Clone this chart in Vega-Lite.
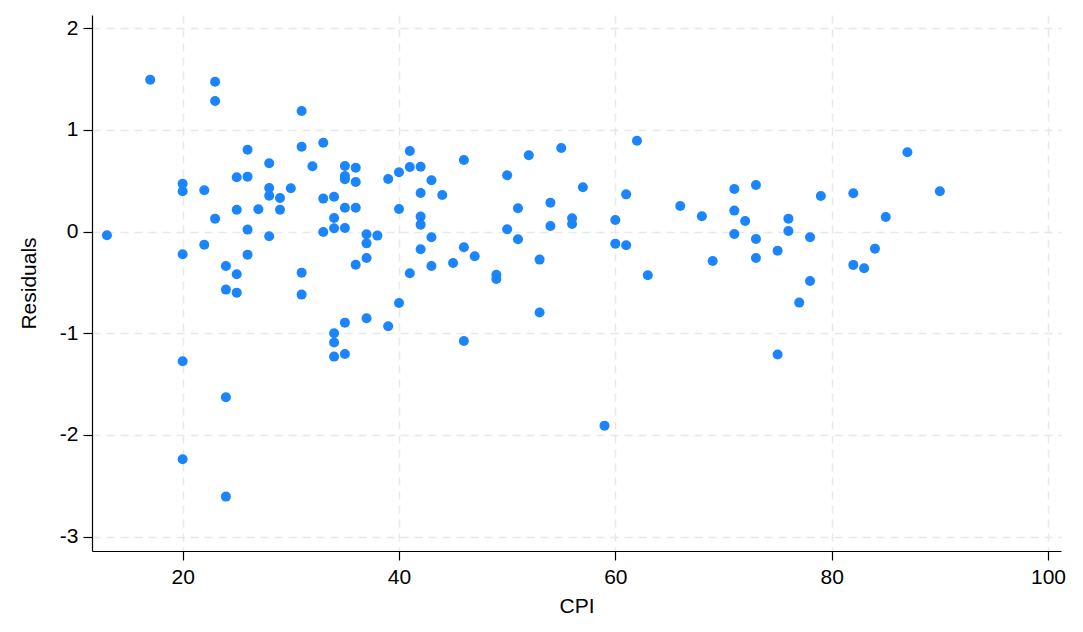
{
  "$schema": "https://vega.github.io/schema/vega-lite/v6.json",
  "width": 969,
  "height": 536,
  "autosize": {"type": "none"},
  "padding": {"left": 92, "top": 15, "right": 22, "bottom": 81},
  "background": "white",
  "config": {
    "view": {"stroke": null},
    "font": "Liberation Sans",
    "axis": {
      "domainColor": "#000000",
      "domainWidth": 1.2,
      "tickColor": "#000000",
      "tickWidth": 1.2,
      "tickSize": 9,
      "labelFont": "Liberation Sans",
      "titleFont": "Liberation Sans",
      "labelFontSize": 21,
      "titleFontSize": 21,
      "titleFontWeight": "normal",
      "labelColor": "#000000",
      "titleColor": "#000000",
      "grid": true,
      "gridColor": "#e8e8e8",
      "gridDash": [8, 6],
      "gridWidth": 1.5
    }
  },
  "data": {
    "values": [
      {"CPI": 13, "Residuals": -0.035},
      {"CPI": 17, "Residuals": 1.495},
      {"CPI": 20, "Residuals": 0.472},
      {"CPI": 20, "Residuals": 0.397},
      {"CPI": 20, "Residuals": -0.222},
      {"CPI": 20, "Residuals": -1.274},
      {"CPI": 20, "Residuals": -2.238},
      {"CPI": 22, "Residuals": 0.407},
      {"CPI": 22, "Residuals": -0.128},
      {"CPI": 23, "Residuals": 1.475},
      {"CPI": 23, "Residuals": 1.285},
      {"CPI": 23, "Residuals": 0.128},
      {"CPI": 24, "Residuals": -0.337},
      {"CPI": 24, "Residuals": -0.570},
      {"CPI": 24, "Residuals": -1.628},
      {"CPI": 24, "Residuals": -2.606},
      {"CPI": 25, "Residuals": 0.535},
      {"CPI": 25, "Residuals": 0.216},
      {"CPI": 25, "Residuals": -0.419},
      {"CPI": 25, "Residuals": -0.600},
      {"CPI": 26, "Residuals": 0.806},
      {"CPI": 26, "Residuals": 0.541},
      {"CPI": 26, "Residuals": 0.020},
      {"CPI": 26, "Residuals": -0.226},
      {"CPI": 27, "Residuals": 0.220},
      {"CPI": 28, "Residuals": 0.672},
      {"CPI": 28, "Residuals": 0.430},
      {"CPI": 28, "Residuals": 0.354},
      {"CPI": 28, "Residuals": -0.045},
      {"CPI": 29, "Residuals": 0.331},
      {"CPI": 29, "Residuals": 0.216},
      {"CPI": 30, "Residuals": 0.427},
      {"CPI": 31, "Residuals": 1.187},
      {"CPI": 31, "Residuals": 0.836},
      {"CPI": 31, "Residuals": -0.403},
      {"CPI": 31, "Residuals": -0.619},
      {"CPI": 32, "Residuals": 0.643},
      {"CPI": 33, "Residuals": 0.875},
      {"CPI": 33, "Residuals": 0.325},
      {"CPI": 33, "Residuals": -0.003},
      {"CPI": 34, "Residuals": 0.344},
      {"CPI": 34, "Residuals": 0.135},
      {"CPI": 34, "Residuals": 0.033},
      {"CPI": 34, "Residuals": -0.999},
      {"CPI": 34, "Residuals": -1.091},
      {"CPI": 34, "Residuals": -1.229},
      {"CPI": 35, "Residuals": 0.646},
      {"CPI": 35, "Residuals": 0.548},
      {"CPI": 35, "Residuals": 0.515},
      {"CPI": 35, "Residuals": 0.236},
      {"CPI": 35, "Residuals": 0.036},
      {"CPI": 35, "Residuals": -0.895},
      {"CPI": 35, "Residuals": -1.203},
      {"CPI": 36, "Residuals": 0.629},
      {"CPI": 36, "Residuals": 0.489},
      {"CPI": 36, "Residuals": 0.236},
      {"CPI": 36, "Residuals": -0.325},
      {"CPI": 37, "Residuals": -0.026},
      {"CPI": 37, "Residuals": -0.115},
      {"CPI": 37, "Residuals": -0.259},
      {"CPI": 37, "Residuals": -0.852},
      {"CPI": 38, "Residuals": -0.039},
      {"CPI": 39, "Residuals": 0.518},
      {"CPI": 39, "Residuals": -0.930},
      {"CPI": 40, "Residuals": 0.584},
      {"CPI": 40, "Residuals": 0.223},
      {"CPI": 40, "Residuals": -0.701},
      {"CPI": 41, "Residuals": 0.793},
      {"CPI": 41, "Residuals": 0.636},
      {"CPI": 41, "Residuals": -0.409},
      {"CPI": 42, "Residuals": 0.639},
      {"CPI": 42, "Residuals": 0.380},
      {"CPI": 42, "Residuals": 0.148},
      {"CPI": 42, "Residuals": 0.069},
      {"CPI": 42, "Residuals": -0.173},
      {"CPI": 43, "Residuals": 0.505},
      {"CPI": 43, "Residuals": -0.055},
      {"CPI": 43, "Residuals": -0.337},
      {"CPI": 44, "Residuals": 0.361},
      {"CPI": 45, "Residuals": -0.308},
      {"CPI": 46, "Residuals": 0.705},
      {"CPI": 46, "Residuals": -0.153},
      {"CPI": 46, "Residuals": -1.075},
      {"CPI": 47, "Residuals": -0.242},
      {"CPI": 49, "Residuals": -0.423},
      {"CPI": 49, "Residuals": -0.465},
      {"CPI": 50, "Residuals": 0.554},
      {"CPI": 50, "Residuals": 0.024},
      {"CPI": 51, "Residuals": 0.230},
      {"CPI": 51, "Residuals": -0.075},
      {"CPI": 52, "Residuals": 0.751},
      {"CPI": 53, "Residuals": -0.275},
      {"CPI": 53, "Residuals": -0.796},
      {"CPI": 54, "Residuals": 0.285},
      {"CPI": 54, "Residuals": 0.056},
      {"CPI": 55, "Residuals": 0.823},
      {"CPI": 56, "Residuals": 0.131},
      {"CPI": 56, "Residuals": 0.076},
      {"CPI": 57, "Residuals": 0.437},
      {"CPI": 59, "Residuals": -1.908},
      {"CPI": 60, "Residuals": 0.115},
      {"CPI": 60, "Residuals": -0.118},
      {"CPI": 61, "Residuals": 0.367},
      {"CPI": 61, "Residuals": -0.134},
      {"CPI": 62, "Residuals": 0.895},
      {"CPI": 63, "Residuals": -0.429},
      {"CPI": 66, "Residuals": 0.253},
      {"CPI": 68, "Residuals": 0.151},
      {"CPI": 69, "Residuals": -0.288},
      {"CPI": 71, "Residuals": 0.420},
      {"CPI": 71, "Residuals": 0.207},
      {"CPI": 71, "Residuals": -0.023},
      {"CPI": 72, "Residuals": 0.105},
      {"CPI": 73, "Residuals": 0.459},
      {"CPI": 73, "Residuals": -0.072},
      {"CPI": 73, "Residuals": -0.259},
      {"CPI": 75, "Residuals": -0.187},
      {"CPI": 75, "Residuals": -1.209},
      {"CPI": 76, "Residuals": 0.128},
      {"CPI": 76, "Residuals": 0.007},
      {"CPI": 77, "Residuals": -0.698},
      {"CPI": 78, "Residuals": -0.055},
      {"CPI": 78, "Residuals": -0.485},
      {"CPI": 79, "Residuals": 0.351},
      {"CPI": 82, "Residuals": 0.377},
      {"CPI": 82, "Residuals": -0.327},
      {"CPI": 83, "Residuals": -0.360},
      {"CPI": 84, "Residuals": -0.167},
      {"CPI": 85, "Residuals": 0.145},
      {"CPI": 87, "Residuals": 0.781},
      {"CPI": 90, "Residuals": 0.397}
    ]
  },
  "mark": {"type": "circle", "size": 100, "color": "#1a85ff", "opacity": 1},
  "encoding": {
    "x": {
      "field": "CPI",
      "type": "quantitative",
      "scale": {"domain": [11.62, 101.2], "nice": false, "zero": false},
      "axis": {"values": [20, 40, 60, 80, 100], "title": "CPI", "labelPadding": 6, "titlePadding": 8}
    },
    "y": {
      "field": "Residuals",
      "type": "quantitative",
      "scale": {"domain": [-3.141, 2.131], "nice": false, "zero": false},
      "axis": {"values": [-3, -2, -1, 0, 1, 2], "labelExpr": "toString(datum.value)", "title": "Residuals", "labelPadding": 5, "titlePadding": 20}
    }
  }
}
